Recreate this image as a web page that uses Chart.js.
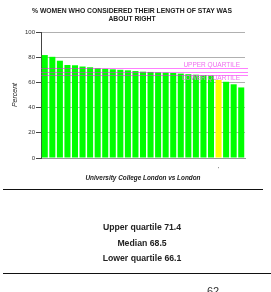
<!DOCTYPE html>
<html>
<head>
<meta charset="utf-8">
<script src="https://cdn.jsdelivr.net/npm/chart.js@4/dist/chart.umd.min.js"></script>
<style>
  body { margin: 0; background: #fff; }
  #wrap { position: relative; width: 271px; height: 292px; overflow: hidden; font-family: "Liberation Sans", Arial, sans-serif; }
  #wrap canvas { position: absolute; left: 0; top: 0; }
  .title { position: absolute; left: 0; width: 264px; text-align: center; font-weight: bold; font-size: 6.8px; color: #222; line-height: 8px; top: 7px; }
  .rule { position: absolute; height: 0; border-top: 1.5px solid #111; }
  .stat { position: absolute; left: 0; width: 284px; text-align: center; font-weight: bold; font-size: 8.7px; color: #222; }
  .value { position: absolute; left: 207px; top: 285px; font-size: 11px; color: #333; }
</style>
</head>
<body>
<div id="wrap">
  <canvas id="chart" width="271" height="292"></canvas>
  <div class="title">% WOMEN WHO CONSIDERED THEIR LENGTH OF STAY WAS<br>ABOUT RIGHT</div>
  <div class="rule" style="left:3px; width:260px; top:189px;"></div>
  <div id="stats"></div>
  <div class="rule" style="left:3px; width:268px; top:273px;"></div>
  <div class="value" id="value"></div>
</div>
<script>
// Datos (hospitales de Londres, ordenados)
const categorias = ["", "", "", "", "", "", "", "", "", "", "", "", "", "", "", "", "", "", "", "", "", "", "", "'", "", "", ""];
const valores = [81.7, 80.3, 77.2, 73.8, 73.6, 72.6, 72.0, 71.2, 70.8, 70.4, 70.0, 69.6, 69.0, 68.5,
  68.3, 68.0, 67.8, 67.5, 67.0, 66.5, 66.1, 65.8, 65.5, 62, 60.5, 58.5, 56.0];
const indiceUCL = 23;
const cuartiles = [71.4, 68.5, 66.1];
const nombresCuartiles = ["Upper quartile", "Median", "Lower quartile"];
const ticksY = [0, 20, 40, 60, 80, 100];

// Textos de abajo
const stats = document.getElementById("stats");
nombresCuartiles.forEach((nombre, i) => {
  const d = document.createElement("div");
  d.className = "stat";
  d.style.top = (222 + i * 15.5) + "px";
  d.textContent = nombre + " " + cuartiles[i].toFixed(1);
  stats.appendChild(d);
});
document.getElementById("value").textContent = valores[indiceUCL];

// Líneas de cuartiles sobre las barras
const cuartilesPlugin = {
  id: "cuartiles",
  afterDatasetsDraw(chart) {
    const { ctx, chartArea, scales } = chart;
    ctx.save();
    ctx.strokeStyle = "rgba(255, 0, 255, 0.5)";
    ctx.lineWidth = 1;
    const ys = cuartiles.map((v) => Math.round(scales.y.getPixelForValue(v)) + 0.5);
    ys.forEach((y) => {
      ctx.beginPath();
      ctx.moveTo(chartArea.left, y);
      ctx.lineTo(chartArea.right + 3, y);
      ctx.stroke();
    });
    ctx.fillStyle = "#ee70ee";
    ctx.font = '6.5px "Liberation Sans"';
    ctx.textAlign = "right";
    ctx.textBaseline = "alphabetic";
    ctx.fillText("UPPER QUARTILE", chartArea.right - 5, ys[0] - 2);
    ctx.fillText("LOWER QUARTILE", chartArea.right - 5, ys[2] + 4);
    ctx.restore();
  },
};

const ctx = document.getElementById("chart").getContext("2d");
new Chart(ctx, {
  type: "bar",
  data: {
    labels: categorias,
    datasets: [
      {
        data: valores,
        backgroundColor: valores.map((v, i) => (i === indiceUCL ? "#ffff00" : "#00ff00")),
        borderWidth: 0,
        barPercentage: 0.8,
        categoryPercentage: 1,
      },
    ],
  },
  options: {
    responsive: false,
    animation: false,
    devicePixelRatio: 1,
    layout: { padding: { left: 0, right: 26, top: 32, bottom: 110 } },
    plugins: { legend: { display: false }, tooltip: { enabled: false } },
    scales: {
      x: {
        grid: { display: false },
        border: { display: true, color: "#999" },
        ticks: { color: "#333", font: { size: 6, family: "Liberation Sans" }, padding: 0, autoSkip: false, maxRotation: 0 },
        title: {
          display: true,
          text: "University College London vs London",
          color: "#222",
          font: { size: 6.4, style: "italic", weight: "bold", family: "Liberation Sans" },
          padding: { top: 0, bottom: 0 },
        },
        afterFit(scale) {
          scale.height = 24;
        },
      },
      y: {
        min: 0,
        max: 100,
        afterBuildTicks(scale) {
          scale.ticks = ticksY.map((v) => ({ value: v }));
        },
        grid: { color: "#b0b0b0", tickColor: "#444", tickLength: 5 },
        border: { display: true, color: "#444" },
        ticks: { color: "#333", font: { size: 6, family: "Liberation Sans" }, padding: 1 },
        title: {
          display: true,
          text: "Percent",
          color: "#222",
          font: { size: 7, style: "italic", family: "Liberation Sans" },
          padding: { top: 11, bottom: 0 },
        },
        afterFit(scale) {
          scale.width = 41;
        },
      },
    },
  },
  plugins: [cuartilesPlugin],
});
</script>
</body>
</html>
